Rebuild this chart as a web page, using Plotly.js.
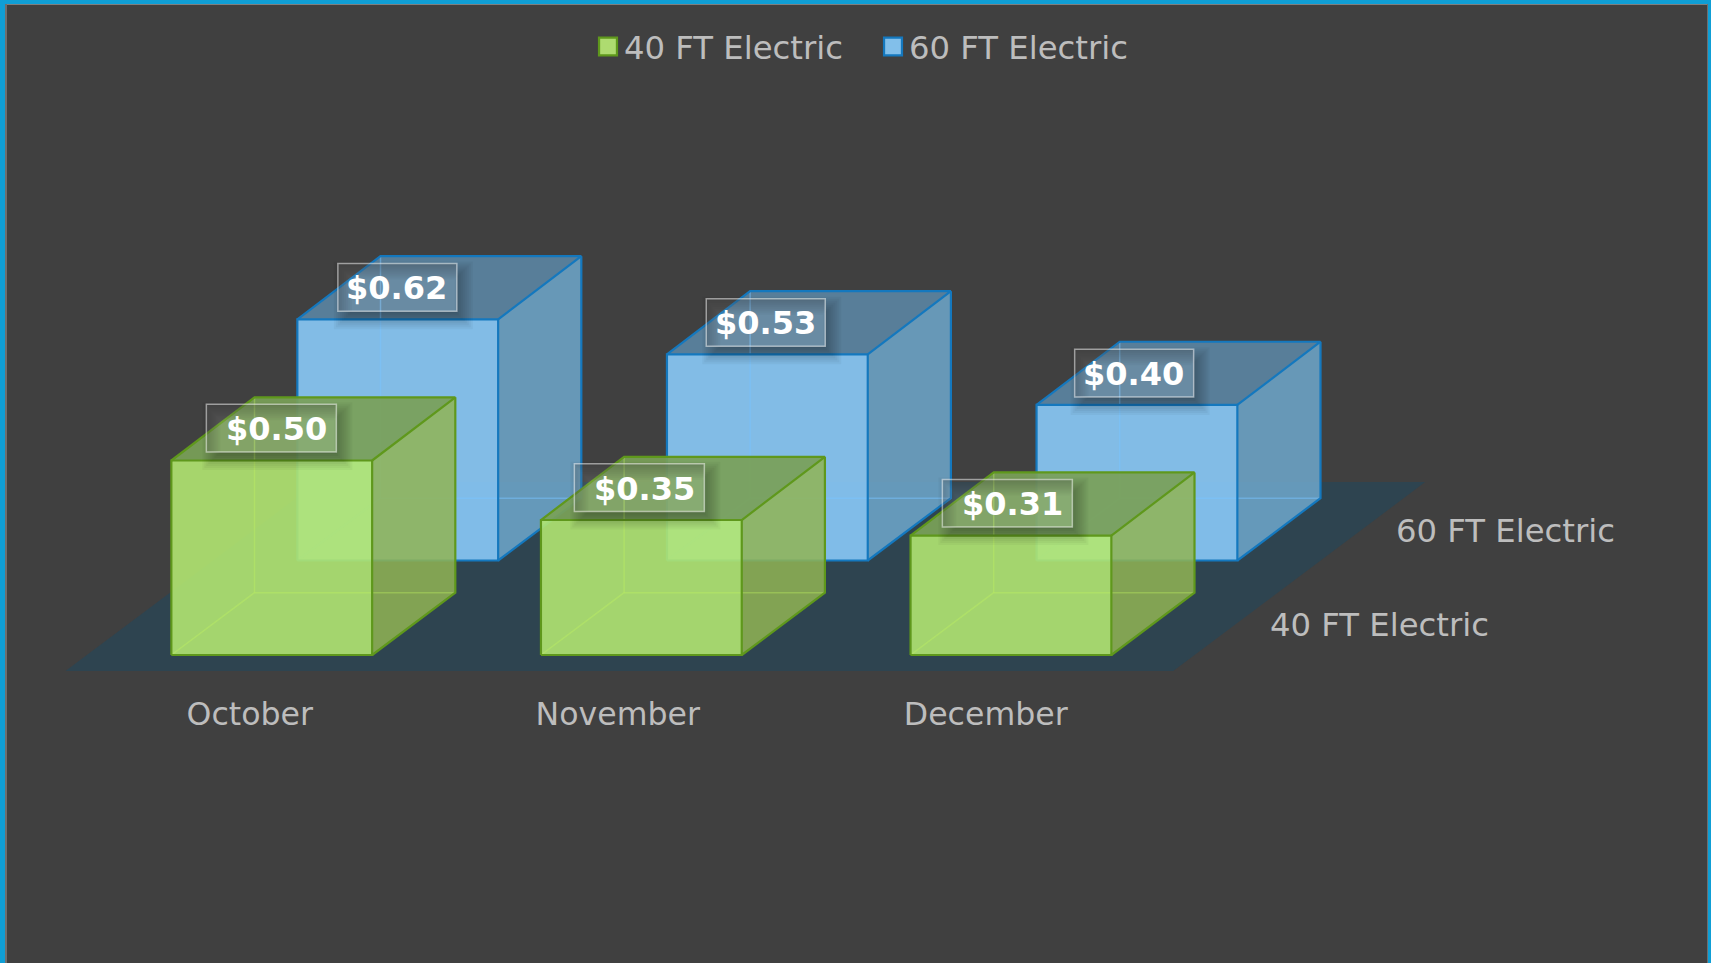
<!DOCTYPE html>
<html><head><meta charset="utf-8">
<script src="https://cdn.plot.ly/plotly-3.0.1.min.js"></script>
<style>html,body{margin:0;padding:0;background:#404040;overflow:hidden}
#chart{position:absolute;left:0;top:0;width:1711px;height:963px}
.edge{position:absolute;z-index:5}</style></head>
<body><div id="chart"></div>
<div class="edge" style="left:0;top:0;width:1711px;height:4px;background:#0F9ED5"></div>
<div class="edge" style="left:0;top:0;width:5px;height:963px;background:#0F9ED5"></div>
<div class="edge" style="left:1708px;top:0;width:3px;height:963px;background:#0F9ED5"></div>
<div class="edge" style="left:5px;top:4px;width:1703px;height:1px;background:#7F7F7F"></div>
<div class="edge" style="left:5px;top:4px;width:2px;height:959px;background:#6E6E6E"></div>
<div class="edge" style="left:1707px;top:4px;width:1px;height:959px;background:#6E6E6E"></div>
<script>
const categories = ['October','November','December'];
const seriesNames = ['40 FT Electric','60 FT Electric'];
const values40 = [0.50,0.347,0.307];
const values60 = [0.62,0.53,0.40];
const labels40 = ['$0.50','$0.35','$0.31'];
const labels60 = ['$0.62','$0.53','$0.40'];

const W=1711,H=963,PX=369.6,PY=389,cx0=271.75,base=655,axisY=692;
const skewX=126/PX, skewY=94.5/PY;
const halfW=100.4/PX, depth=0.66, topLift=0.8/PY;
const P=(x,s,v)=>[x+s*skewX, v+s*skewY];
const styles=[
 {front:'rgba(177,229,113,0.9)',top:'rgba(122,160,88,0.93)',right:'rgba(145,180,84,0.85)',inner:'rgba(195,245,95,0.35)',edge:'#5F981C',swatch:'#AEDB70'},
 {front:'rgba(137,202,248,0.9)',top:'rgba(96,147,183,0.75)',right:'rgba(111,168,205,0.85)',inner:'rgba(120,195,255,0.5)',edge:'#1478BE',swatch:'#82BFEA'}
];
const traces=[];
function poly(pts,fill){traces.push({type:'scatter',mode:'none',x:[...pts.map(p=>p[0]),pts[0][0]],y:[...pts.map(p=>p[1]),pts[0][1]],fill:'toself',fillcolor:fill,hoverinfo:'skip',showlegend:false});}
function lines(segs,color,w){const x=[],y=[];segs.forEach(s=>{s.forEach(p=>{x.push(p[0]);y.push(p[1]);});x.push(null);y.push(null);});
 traces.push({type:'scatter',mode:'lines',x,y,line:{color,width:w},hoverinfo:'skip',showlegend:false});}
// floor
const fs0=-0.17,fs1=1.83;
poly([P(-0.5,fs0,0),P(2.497,fs0,0),P(2.497,fs1,0),P(-0.5,fs1,0)],'#2E4450');
[values60,values40].forEach((vals,k)=>{
 const s=k===0?1:0, st=styles[s];
 vals.forEach((v,i)=>{
  const l=i-halfW,r=i+halfW,d=s+depth,f=s;
  const a=P(l,f,0),b=P(r,f,0),c=P(r,f,v),e=P(l,f,v),a2=P(l,d,0),b2=P(r,d,0),c2=P(r,d,v+topLift),e2=P(l,d,v+topLift);
  poly([b,b2,c2,c],st.right);
  poly([e,c,c2,e2],st.top);
  poly([a,b,c,e],st.front);
  lines([[a,a2],[a2,b2],[a2,e2]],st.inner,1.5);
  lines([[a,b,c,e,a],[e,e2,c2,c],[c2,b2,b]],st.edge,2.2);
 });
});
// legend keys
seriesNames.forEach((n,k)=>traces.push({type:'scatter',mode:'markers',x:[null],y:[null],name:n,marker:{symbol:'square',size:16,color:styles[k].swatch,line:{color:styles[k].edge,width:2}},hoverinfo:'skip'}));

const annotations=[],shapes=[];
const lx=[35,40.5], bw=[130,119], bh=47.7, tx=[70,59], drift=[1.6,1.2], lift=[8.5,8];
[labels40,labels60].forEach((labs,s)=>{
 const vals=s===0?values40:values60;
 labs.forEach((t,i)=>{
  const p=P(i-halfW,s,vals[i]);
  const x0=p[0]+(lx[s]-i*drift[s])/PX, y0=p[1]+lift[s]/PY, x1=x0+bw[s]/PX, y1=y0+bh/PY;
  // soft shadow: stacked rings around the box, offset right and down
  for(let g=0;g<10;g++){
   const sp=-8+g*2;
   const a0=x0+(6-sp)/PX,a1=x1+(6+sp)/PX,b0=y0-(8+sp)/PY,b1=y1+(-8+sp)/PY;
   shapes.push({type:'path',xref:'x',yref:'y',layer:'above',fillrule:'evenodd',line:{width:0},fillcolor:'rgba(0,0,0,0.036)',
    path:`M${a0},${b0}L${a1},${b0}L${a1},${b1}L${a0},${b1}Z M${x0},${y0}L${x1},${y0}L${x1},${y1}L${x0},${y1}Z`});
  }
  shapes.push({type:'rect',xref:'x',yref:'y',layer:'above',x0,x1,y0,y1,fillcolor:'rgba(255,255,255,0.1)',line:{color:'rgba(255,255,255,0.5)',width:1.5}});
  annotations.push({x:x0+tx[s]/PX,y:(y0+y1)/2-1/PY,xref:'x',yref:'y',xanchor:'center',yanchor:'middle',text:'<b>'+t+'</b>',showarrow:false,
    font:{family:'DejaVu Sans',size:32,color:'#FFFFFF'}});
 });
});
seriesNames.forEach((n,s)=>{
 const p=P(2.695,s,0.077);
 annotations.push({x:p[0],y:p[1],xref:'x',yref:'y',xanchor:'left',yanchor:'middle',text:n,showarrow:false,font:{family:'DejaVu Sans',size:32.3,color:'#BDBDBD'}});
});

const layout={width:W,height:H,paper_bgcolor:'#404040',plot_bgcolor:'rgba(0,0,0,0)',
 margin:{l:0,r:0,t:0,b:H-axisY,pad:0},showlegend:true,
 legend:{orientation:'h',x:584/W,xanchor:'left',y:(axisY-19)/axisY,yanchor:'top',entrywidth:240,entrywidthmode:'pixels',font:{family:'DejaVu Sans',size:32.3,color:'#BDBDBD'},bgcolor:'rgba(0,0,0,0)',traceorder:'normal'},
 xaxis:{range:[-cx0/PX,(W-cx0)/PX],showgrid:false,zeroline:false,showline:false,ticks:'',tickmode:'array',tickvals:categories.map((c,i)=>i*368/PX-22/PX),ticktext:categories,tickfont:{family:'DejaVu Sans',size:31.6,color:'#BDBDBD'},fixedrange:true},
 yaxis:{range:[(base-axisY)/PY,base/PY],showgrid:false,zeroline:false,showline:false,showticklabels:false,ticks:'',fixedrange:true},
 annotations,shapes};
Plotly.newPlot('chart',traces,layout,{displayModeBar:false,staticPlot:true}).then(()=>{
 document.querySelectorAll('.legend .legendsymbols').forEach(g=>g.setAttribute('transform','translate(4,0)'));
 document.querySelectorAll('.legend .legendsymbols path').forEach(p=>{
  const t=p.getAttribute('transform')||'';
  p.setAttribute('transform',t+' scale(1.12)');
 });
});
</script></body></html>
